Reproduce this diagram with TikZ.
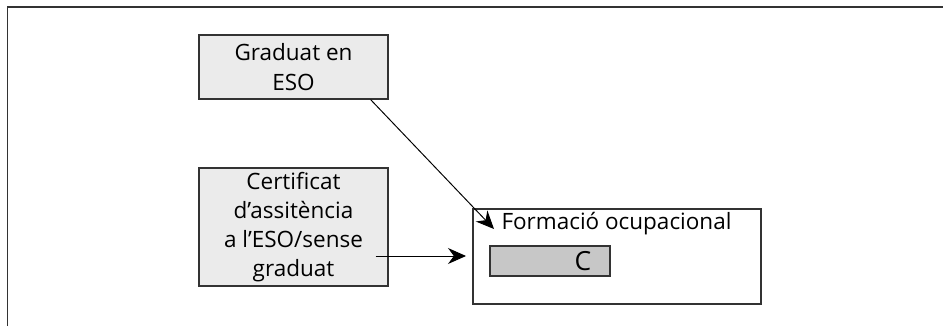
\documentclass[tikz,border=0pt]{standalone}
\usepackage{fontspec}
\setmainfont{Open Sans}
\usetikzlibrary{arrows.meta,calc}

\begin{document}
\begin{tikzpicture}[
        font=\fontsize{12.8}{16.6}\selectfont,
        origin/.style={draw=black!80, line width=0.7pt, fill=black!8, align=center, minimum width=3.78cm, inner sep=0pt},
        target/.style={draw=black!80, line width=0.7pt, fill=white, minimum width=5.76cm, minimum height=1.9cm},
        level/.style={draw=black!80, line width=0.7pt, fill=black!22, minimum width=2.4cm, minimum height=0.6cm},
        link/.style={-{Stealth[length=0.36cm,width=0.32cm]}, line width=0.55pt}
    ]
        \useasboundingbox (0,0) rectangle (18.86,6.52);

        % Frame
        \draw[black!80, line width=0.9pt] (0.15,0) -- (0.15,6.38) -- (18.86,6.38);

        % Origins
        \node[origin, minimum height=1.28cm] (graduat) at (5.87,5.18) {Graduat en\\ESO};
        \node[origin, minimum height=2.36cm] (certificat) at (5.87,1.98) {Certificat\\d’assitència\\a l’ESO/sense\\graduat};

        % Formacio ocupacional
        \node[target] (formacio) at (12.34,1.39) {};
        \node (titol) at (12.33,2.04) {Formació ocupacional};
        \node[level] (nivell) at (11.0,1.3) {};
        \node[font=\fontsize{15}{18}\selectfont] (lletra) at (11.66,1.3) {C};

        % Arrows
        \coordinate (graduatout) at ($(graduat.south east)+(-0.36,0)$);
        \coordinate (graduatin) at (9.88,1.94);
        \coordinate (certificatout) at ($(certificat.east)+(-0.26,-0.58)$);
        \coordinate (certificatin) at (9.32,1.4);
        \draw[link] (graduatout) -- (graduatin);
        \draw[link] (certificatout) -- (certificatin);

     \end{tikzpicture}
\end{document}
